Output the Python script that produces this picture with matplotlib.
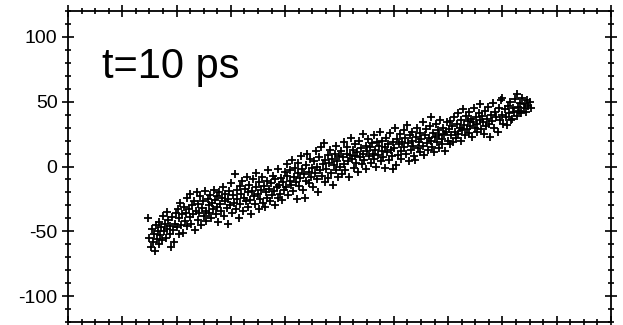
import matplotlib
matplotlib.use("Agg")
import matplotlib.pyplot as plt
from matplotlib.ticker import MultipleLocator

plt.rcParams['font.family'] = ['Liberation Sans', 'DejaVu Sans']

# Scatter points, grouped along the band
seg_a = [(1.47,-40),(1.50,-55),(1.52,-62),(1.55,-48),(1.57,-58),(1.58,-52),(1.60,-65),(1.62,-45),(1.63,-56),(1.65,-50),
         (1.67,-60),(1.68,-43),(1.70,-53),(1.72,-47),(1.73,-57),(1.75,-38),(1.77,-50),(1.78,-44),(1.80,-55),(1.82,-35),
         (1.83,-48),(1.85,-41),(1.87,-52),(1.88,-46),(1.90,-62),(1.92,-39),(1.93,-49),(1.95,-58),(1.97,-44),(1.98,-36)]
seg_b = [(2.00,-47),(2.02,-33),(2.04,-52),(2.05,-40),(2.07,-28),(2.09,-45),(2.10,-37),(2.12,-51),(2.14,-31),(2.15,-42),
         (2.17,-36),(2.19,-24),(2.20,-46),(2.22,-33),(2.24,-39),(2.25,-21),(2.27,-44),(2.29,-30),(2.30,-37),(2.32,-27),
         (2.34,-49),(2.35,-34),(2.37,-20),(2.39,-41),(2.40,-29),(2.42,-36),(2.44,-23),(2.45,-45),(2.47,-32),(2.49,-27),
         (2.50,-38),(2.52,-19),(2.54,-34),(2.55,-42),(2.57,-25),(2.59,-30),(2.60,-36),(2.62,-22),(2.64,-40),(2.65,-28),
         (2.67,-33),(2.69,-18),(2.70,-26),(2.72,-37),(2.74,-23),(2.75,-31),(2.77,-43),(2.79,-20),(2.80,-29),(2.82,-34),
         (2.84,-24),(2.85,-16),(2.87,-38),(2.89,-27),(2.90,-21),(2.92,-32),(2.94,-44),(2.95,-25),(2.97,-19),(2.99,-30)]
seg_c = [(3.01,-13),(3.02,-36),(3.04,-22),(3.06,-28),(3.07,-6),(3.09,-33),(3.11,-18),(3.12,-25),(3.14,-40),(3.16,-15),
         (3.17,-29),(3.19,-21),(3.21,-11),(3.22,-34),(3.24,-24),(3.26,-17),(3.27,-27),(3.29,-8),(3.31,-31),(3.32,-20),
         (3.34,-14),(3.36,-26),(3.37,-37),(3.39,-19),(3.41,-10),(3.42,-23),(3.44,-29),(3.46,-16),(3.47,-5),(3.49,-21),
         (3.51,-33),(3.52,-12),(3.54,-25),(3.56,-18),(3.57,-8),(3.59,-28),(3.61,-15),(3.62,-31),(3.64,-20),(3.66,-11),
         (3.67,-24),(3.69,-3),(3.71,-17),(3.72,-27),(3.74,-13),(3.76,-22),(3.77,-7),(3.79,-19),(3.81,-30),(3.82,-10),
         (3.84,-16),(3.86,-24),(3.87,-2),(3.89,-14),(3.91,-21),(3.92,-9),(3.94,-26),(3.96,-12),(3.97,-18),(3.99,-4)]
seg_d = [(4.01,-16),(4.03,-7),(4.04,2),(4.06,-22),(4.08,-11),(4.09,-3),(4.11,-14),(4.13,5),(4.14,-19),(4.16,-8),
         (4.18,-1),(4.19,-12),(4.21,-25),(4.23,-5),(4.24,3),(4.26,-15),(4.28,-9),(4.29,8),(4.31,-2),(4.33,-18),
         (4.34,-6),(4.36,-24),(4.38,1),(4.39,-11),(4.41,10),(4.43,-4),(4.44,-13),(4.46,6),(4.48,-8),(4.49,-1),
         (4.51,-16),(4.53,4),(4.54,-5),(4.56,12),(4.58,-10),(4.59,0),(4.61,-20),(4.63,7),(4.64,-3),(4.66,15),
         (4.68,-7),(4.69,2),(4.71,18),(4.73,-12),(4.74,5),(4.76,-2),(4.78,9),(4.79,-9),(4.81,3),(4.83,13),
         (4.84,-5),(4.86,6),(4.88,-14),(4.89,1),(4.91,10),(4.93,-3),(4.94,16),(4.96,4),(4.98,-8),(4.99,8)]
seg_e = [(5.01,0),(5.03,12),(5.04,-6),(5.06,7),(5.08,19),(5.09,2),(5.11,-3),(5.13,10),(5.14,15),(5.16,4),
         (5.18,-8),(5.19,9),(5.21,22),(5.23,6),(5.24,13),(5.26,-1),(5.28,17),(5.29,8),(5.31,3),(5.33,11),
         (5.34,-4),(5.36,20),(5.38,7),(5.39,14),(5.41,2),(5.43,25),(5.44,10),(5.46,5),(5.48,16),(5.49,-2),
         (5.51,12),(5.53,21),(5.54,8),(5.56,15),(5.58,3),(5.59,18),(5.61,10),(5.63,24),(5.64,6),(5.66,13),
         (5.68,0),(5.69,19),(5.71,9),(5.73,16),(5.74,27),(5.76,4),(5.78,12),(5.79,20),(5.81,7),(5.83,15),
         (5.84,-1),(5.86,22),(5.88,11),(5.89,17),(5.91,5),(5.93,26),(5.94,13),(5.96,8),(5.98,19),(5.99,-2)]
seg_f = [(6.01,14),(6.02,30),(6.04,1),(6.06,21),(6.08,9),(6.09,17),(6.11,25),(6.13,12),(6.14,6),(6.16,19),
         (6.18,28),(6.19,15),(6.21,22),(6.23,10),(6.24,32),(6.26,18),(6.28,4),(6.29,24),(6.31,13),(6.33,20),
         (6.34,27),(6.36,16),(6.38,8),(6.39,5),(6.41,23),(6.43,30),(6.44,14),(6.46,19),(6.48,11),(6.49,26),
         (6.51,21),(6.53,34),(6.54,16),(6.56,9),(6.58,24),(6.59,29),(6.61,18),(6.63,13),(6.64,22),(6.66,31),
         (6.68,20),(6.69,38),(6.71,15),(6.73,26),(6.74,11),(6.76,23),(6.78,33),(6.79,19),(6.81,28),(6.83,14),
         (6.84,24),(6.86,36),(6.88,21),(6.89,17),(6.91,30),(6.93,25),(6.94,12),(6.96,27),(6.98,34),(6.99,20)]
seg_g = [(7.01,29),(7.03,17),(7.04,35),(7.06,24),(7.08,31),(7.09,19),(7.11,38),(7.13,27),(7.14,22),(7.16,33),
         (7.18,41),(7.19,25),(7.21,30),(7.23,20),(7.24,36),(7.26,28),(7.28,44),(7.29,32),(7.31,24),(7.33,39),
         (7.34,29),(7.36,35),(7.38,26),(7.39,42),(7.41,31),(7.43,37),(7.44,23),(7.46,34),(7.48,45),(7.49,30),
         (7.51,38),(7.53,27),(7.54,33),(7.56,41),(7.58,36),(7.59,48),(7.61,29),(7.63,39),(7.64,34),(7.66,25),
         (7.68,43),(7.69,31)]
seg_h = [(7.71,37),(7.73,46),(7.75,33),(7.77,23),(7.79,40),(7.81,35),(7.83,49),(7.85,30),(7.87,42),(7.89,38),
         (7.91,27),(7.93,45),(7.95,36),(7.97,51),(7.99,40),(8.00,53),(8.02,33),(8.04,44),(8.06,38),(8.08,32),
         (8.10,47),(8.12,41),(8.14,50),(8.16,36),(8.18,37),(8.20,45),(8.22,42),(8.24,52),(8.26,39),(8.27,56),
         (8.29,46),(8.31,43),(8.33,49),(8.35,41),(8.37,53),(8.39,45),(8.41,48),(8.43,42),(8.46,51),(8.48,47),
         (8.50,50),(8.52,45)]

segments = [seg_a, seg_b, seg_c, seg_d, seg_e, seg_f, seg_g, seg_h]
x_vals = [p[0] for s in segments for p in s]
y_vals = [p[1] for s in segments for p in s]

y_ticks = [-100, -50, 0, 50, 100]
y_tick_labels = ["-100", "-50", "0", "50", "100"]
annotation = "t=10 ps"

fig = plt.figure(figsize=(6.23, 3.25), dpi=100)
ax = fig.add_axes([68/623, 3/325, 543/623, 311/325])

ax.plot(x_vals, y_vals, linestyle='none', marker='+', color='black',
        markersize=6.0, markeredgewidth=1.3)

ax.set_xlim(0, 10)
ax.set_ylim(-120, 120)
ax.xaxis.set_major_locator(MultipleLocator(1))
ax.xaxis.set_minor_locator(MultipleLocator(0.25))
ax.set_yticks(y_ticks)
ax.set_yticklabels(y_tick_labels)
ax.yaxis.set_minor_locator(MultipleLocator(10))

ax.tick_params(which='both', direction='inout', top=True, right=True,
               labelbottom=False, labeltop=False, labelright=False, color='black')
ax.tick_params(which='major', length=9, width=1.2, pad=3.0, labelsize=14)
ax.tick_params(which='minor', length=5, width=1.2)
for sp in ax.spines.values():
    sp.set_linewidth(1.3)

ax.text(0.63, 77, annotation, fontsize=30, va='center', ha='left')

fig.savefig("out.png", dpi=100)
